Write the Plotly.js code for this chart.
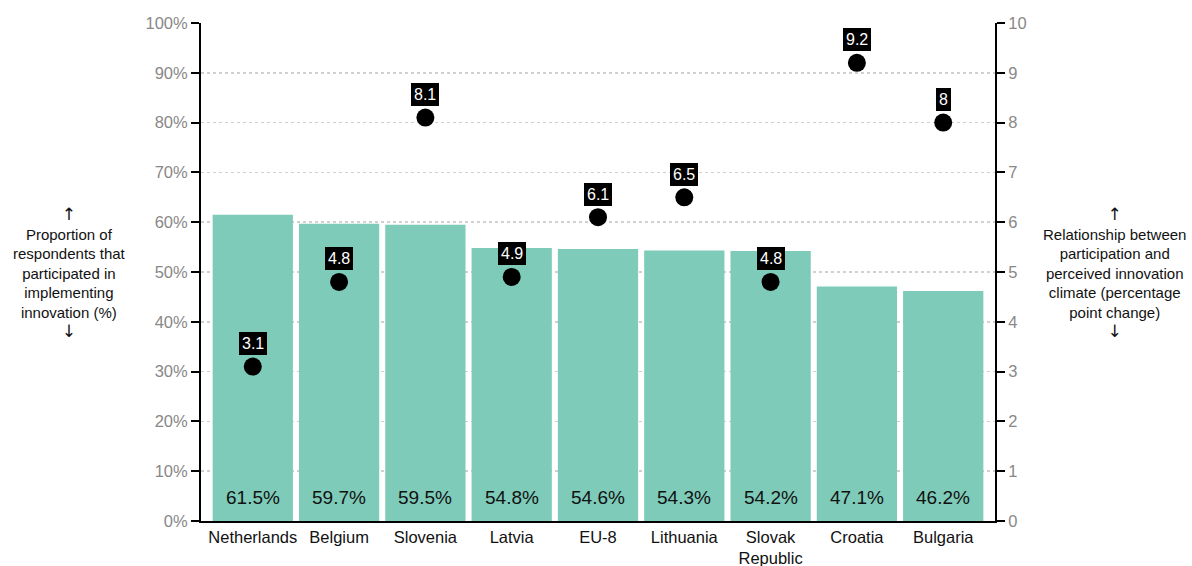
<!DOCTYPE html>
<html>
<head>
<meta charset="utf-8">
<script src="https://cdn.plot.ly/plotly-3.0.1.min.js"></script>
<style>html,body{margin:0;padding:0;background:#fff}#chart{width:1192px;height:566px}</style>
</head>
<body>
<div id="chart"></div>
<script>
var categories = ["Netherlands", "Belgium", "Slovenia", "Latvia", "EU-8", "Lithuania", "Slovak<br>Republic", "Croatia", "Bulgaria"];
var participation = [61.5, 59.7, 59.5, 54.8, 54.6, 54.3, 54.2, 47.1, 46.2];
var relationship = [3.1, 4.8, 8.1, 4.9, 6.1, 6.5, 4.8, 9.2, 8];
var leftTicks = [0, 10, 20, 30, 40, 50, 60, 70, 80, 90, 100];
var rightTicks = [0, 1, 2, 3, 4, 5, 6, 7, 8, 9, 10];

var FONT = "Liberation Sans, Arial, sans-serif";
var xIdx = categories.map(function (c, i) { return i; });

var bars = {
  type: "bar",
  x: xIdx,
  y: participation,
  marker: { color: "#7ecbb9" },
  hoverinfo: "skip",
  yaxis: "y"
};
var dots = {
  type: "scatter",
  mode: "markers",
  x: xIdx,
  y: relationship,
  yaxis: "y2",
  marker: { color: "#000", size: 18 },
  hoverinfo: "skip"
};

var annotations = [];
participation.forEach(function (v, i) {
  annotations.push({
    x: i, y: 0, xref: "x", yref: "y", text: v.toFixed(1) + "%",
    showarrow: false, yanchor: "middle", yshift: 24,
    font: { family: FONT, size: 19, color: "#111" }
  });
});
relationship.forEach(function (v, i) {
  annotations.push({
    x: i, y: v, xref: "x", yref: "y2", text: String(v),
    showarrow: false, yanchor: "middle", yshift: 23,
    bgcolor: "#000", bordercolor: "#000", borderwidth: 1, borderpad: 2,
    font: { family: FONT, size: 16, color: "#fff" }
  });
});
var UP = "<span style='font-family:DejaVu Sans;font-size:17px;fill:#111;color:#111'>↑</span>";
var DOWN = "<span style='font-family:DejaVu Sans;font-size:17px;fill:#111;color:#111'>↓</span>";
annotations.push({
  xref: "paper", yref: "paper", x: -0.165, y: 0.50, xanchor: "center", yanchor: "middle",
  showarrow: false, align: "center",
  text: UP + "<br>Proportion of<br>respondents that<br>participated in<br>implementing<br>innovation (%)<br>" + DOWN,
  font: { family: FONT, size: 15, color: "#111" }
});
annotations.push({
  xref: "paper", yref: "paper", x: 1.150, y: 0.50, xanchor: "center", yanchor: "middle",
  showarrow: false, align: "center",
  text: UP + "<br>Relationship between<br>participation and<br>perceived innovation<br>climate (percentage<br>point change)<br>" + DOWN,
  font: { family: FONT, size: 15, color: "#111" }
});

var layout = {
  width: 1192, height: 566,
  margin: { l: 201, r: 197, t: 23, b: 45 },
  paper_bgcolor: "#fff", plot_bgcolor: "#fff",
  font: { family: FONT },
  showlegend: false,
  bargap: 0.07,
  xaxis: {
    range: [-0.6, 8.6],
    tickmode: "array", tickvals: xIdx, ticktext: categories,
    showline: true, linecolor: "#000", linewidth: 2,
    ticks: "", showgrid: false, zeroline: false,
    tickfont: { family: FONT, size: 16.5, color: "#111" },
    fixedrange: true
  },
  yaxis: {
    range: [0, 100],
    tickmode: "array", tickvals: leftTicks,
    ticktext: leftTicks.map(function (t) { return t + "%"; }),
    showline: true, linecolor: "#000", linewidth: 2,
    ticks: "outside", ticklen: 8, tickwidth: 2, tickcolor: "#000",
    showgrid: true, gridcolor: "#d0d0d0", griddash: "dot", gridwidth: 1.5,
    zeroline: false,
    tickfont: { family: FONT, size: 16.5, color: "#888" }
  },
  yaxis2: {
    range: [0, 10], overlaying: "y", side: "right",
    tickmode: "array", tickvals: rightTicks,
    showline: true, linecolor: "#000", linewidth: 2,
    ticks: "outside", ticklen: 8, tickwidth: 2, tickcolor: "#000",
    showgrid: false, zeroline: false,
    tickfont: { family: FONT, size: 16.5, color: "#888" }
  },
  annotations: annotations
};

Plotly.newPlot("chart", [bars, dots], layout, { displayModeBar: false, staticPlot: true });
</script>
</body>
</html>
